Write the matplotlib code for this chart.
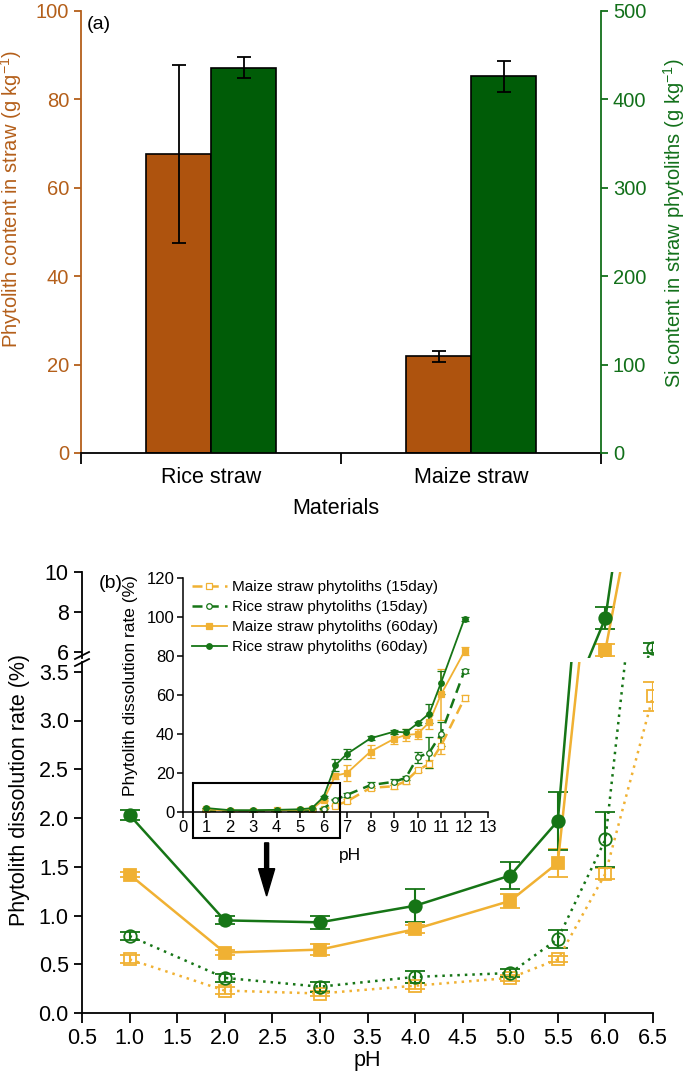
import numpy as np
import matplotlib
matplotlib.use('Agg')
import matplotlib.pyplot as plt
from matplotlib.patches import Rectangle

plt.rcParams['font.family'] = ['Liberation Sans', 'DejaVu Sans']
plt.rcParams['mathtext.default'] = 'regular'

# panel (a) data
materials = ['Rice straw', 'Maize straw']
phytolith_content = [67.6, 21.9]
phytolith_err = [20.2, 1.2]
si_content = [436, 426]
si_err = [12, 18]

# panel (b) data, pH series (main plot uses the first 8 points)
ph = [1, 2, 3, 4, 5, 5.5, 6, 6.5, 7, 8, 9, 9.5, 10, 10.5, 11, 12]
rice60 = [2.03, 0.95, 0.93, 1.10, 1.41, 1.97, 7.7, 24.0, 29.8, 37.8, 41.2, 40.8, 45.4, 50.5, 66.3, 99.2]
rice60_err = [0.05, 0.04, 0.07, 0.17, 0.14, 0.30, 0.55, 3.0, 2.5, 1.0, 1.0, 2.0, 1.0, 5.0, 6.0, 1.0]
maize60 = [1.42, 0.62, 0.65, 0.86, 1.15, 1.54, 6.1, 18.6, 20.0, 31.0, 37.5, 39.5, 40.0, 46.0, 60.3, 82.4]
maize60_err = [0.03, 0.03, 0.06, 0.04, 0.07, 0.14, 0.3, 1.5, 4.0, 3.5, 2.5, 3.0, 2.5, 3.5, 13.0, 2.0]
rice15 = [0.79, 0.36, 0.27, 0.37, 0.41, 0.76, 1.78, 6.2, 8.8, 13.8, 15.5, 17.5, 28.0, 30.5, 40.0, 72.5]
rice15_err = [0.04, 0.04, 0.05, 0.06, 0.04, 0.09, 0.28, 0.25, 1.0, 1.5, 1.5, 1.0, 3.0, 8.0, 6.0, 1.0]
maize15 = [0.55, 0.23, 0.20, 0.28, 0.36, 0.55, 1.43, 3.25, 5.5, 12.4, 13.2, 15.8, 21.4, 24.7, 34.0, 58.3]
maize15_err = [0.04, 0.04, 0.03, 0.03, 0.03, 0.03, 0.06, 0.15, 1.0, 1.0, 1.5, 1.5, 1.0, 2.0, 4.0, 1.5]
n_main = 8

BROWN_BAR = '#AE530E'
BROWN_TXT = '#B45F1A'
GREEN_BAR = '#005C07'
GREEN_TXT = '#12701A'
GOLD = '#F0B133'
GREEN = '#167516'

W, H = 685, 1077
fig = plt.figure(figsize=(W / 100, H / 100), dpi=100)


def px_axes(left, top, right, bottom):
    return fig.add_axes([left / W, 1 - bottom / H, (right - left) / W, (bottom - top) / H])


# ---------------- panel (a) ----------------
ax1 = px_axes(81, 11, 601, 453)
ax2 = ax1.twinx()
x = np.arange(len(materials)) + 0.5
bw = 0.25
ax1.bar(x - bw / 2, phytolith_content, bw, color=BROWN_BAR, edgecolor='black', lw=1.2, zorder=2)
ax1.errorbar(x - bw / 2, phytolith_content, yerr=phytolith_err, fmt='none', ecolor='black',
             elinewidth=1.3, capsize=5, capthick=1.3, zorder=3)
ax2.bar(x + bw / 2, si_content, bw, color=GREEN_BAR, edgecolor='black', lw=1.2, zorder=2)
ax2.errorbar(x + bw / 2, si_content, yerr=si_err, fmt='none', ecolor='black',
             elinewidth=1.3, capsize=5, capthick=1.3, zorder=3)

ax1.set_xlim(0, 2)
ax1.set_ylim(0, 100)
ax2.set_ylim(0, 500)
ax1.set_xticks([0, 1, 2])
ax1.set_xticklabels([])
ax1.set_xticks(x, minor=True)
ax1.set_xticklabels(materials, minor=True, fontsize=15.5)
ax1.tick_params(axis='x', which='major', direction='out', length=8, width=1.3)
ax1.tick_params(axis='x', which='minor', length=0, pad=10)
ax1.set_yticks([0, 20, 40, 60, 80, 100])
ax2.set_yticks([0, 100, 200, 300, 400, 500])
ax1.tick_params(axis='y', colors=BROWN_TXT, labelsize=14.5, length=5, width=1.3)
ax2.tick_params(axis='y', colors=GREEN_TXT, labelsize=14.5, length=5, width=1.3)
for a in (ax1, ax2):
    a.spines['top'].set_visible(False)
ax1.spines['left'].set_color(BROWN_TXT)
ax1.spines['right'].set_visible(False)
ax2.spines['left'].set_visible(False)
ax2.spines['right'].set_color(GREEN_TXT)
ax2.spines['bottom'].set_visible(False)
for s in ('left', 'bottom'):
    ax1.spines[s].set_linewidth(1.3)
ax2.spines['right'].set_linewidth(1.3)
ax1.set_ylabel('Phytolith content in straw (g kg$^{-1}$)', color=BROWN_TXT, fontsize=14.5)
ax1.yaxis.set_label_coords(-0.11, 0.575)
ax2.set_ylabel('Si content in straw phytoliths (g kg$^{-1}$)', color=GREEN_TXT, fontsize=14.5)
ax2.yaxis.set_label_coords(1.115, 0.52)
ax1.set_xlabel('Materials', fontsize=15.5)
ax1.xaxis.set_label_coords(0.49, -0.102)
ax1.text(0.012, 0.97, '(a)', transform=ax1.transAxes, fontsize=14, va='center', ha='left')

# ---------------- panel (b) ----------------
ax_lo = px_axes(82, 662, 653, 1013)
ax_hi = px_axes(82, 572, 653, 658)

main_series = [
    (maize15, maize15_err, GOLD, 's', 'none', (0, (1, 2)), 8),
    (rice15, rice15_err, GREEN, 'o', 'none', (0, (1, 2)), 9),
    (maize60, maize60_err, GOLD, 's', GOLD, '-', 8),
    (rice60, rice60_err, GREEN, 'o', GREEN, '-', 9),
]
for a in (ax_lo, ax_hi):
    for vals, errs, col, mk, mfc, ls, ms in main_series:
        a.errorbar(ph[:n_main], vals[:n_main], yerr=errs[:n_main], color=col, ecolor=col,
                   marker=mk, ms=ms, mfc=mfc, mec=col, mew=1.3,
                   ls=ls, lw=1.8, elinewidth=1.5, capsize=7, capthick=1.5)
    a.set_xlim(0.5, 6.5)
    a.spines['top'].set_visible(False)
    a.spines['right'].set_visible(False)
    a.spines['left'].set_linewidth(1.3)
    a.tick_params(axis='y', labelsize=15.5, length=6, width=1.3)

ax_lo.set_ylim(0, 3.6)
ax_lo.set_yticks(np.arange(0, 3.51, 0.5))
ax_lo.set_yticklabels([f'{v:.1f}' for v in np.arange(0, 3.51, 0.5)])
ax_lo.set_xticks(np.arange(0.5, 6.51, 0.5))
ax_lo.set_xticklabels([f'{v:.1f}' for v in np.arange(0.5, 6.51, 0.5)])
ax_lo.tick_params(axis='x', labelsize=15.5, length=7, width=1.3, pad=4)
ax_lo.spines['bottom'].set_linewidth(1.3)
ax_lo.set_xlabel('pH', fontsize=15.5)
ax_lo.xaxis.set_label_coords(0.5, -0.105)

ax_hi.set_ylim(5.7, 10)
ax_hi.set_yticks([6, 8, 10])
ax_hi.spines['bottom'].set_visible(False)
ax_hi.set_xticks([])

# break marks on the y axis
for a, y0, y1 in ((ax_hi, -0.012, 0.07), (ax_lo, 0.9886, 1.0085)):
    a.plot([-0.0123, 0.0123], [y0, y1], transform=a.transAxes, color='black', lw=1.3, clip_on=False)

fig.text(20 / W, 1 - 790 / H, 'Phytolith dissolution rate (%)', rotation=90, fontsize=15.5,
         ha='center', va='center')
ax_hi.text(0.03, 0.87, '(b)', transform=ax_hi.transAxes, fontsize=14, va='center', ha='left')

# arrow from the inset box down to the main plot
ax_lo.arrow(2.44, 1.745, 0, -0.545, width=0.042, head_width=0.17, head_length=0.28,
            length_includes_head=True, color='black', zorder=5)

# ---------------- inset ----------------
ax_in = px_axes(182.6, 578, 488, 812)
inset_series = [
    (maize15, maize15_err, GOLD, 's', 'white', (0, (4, 2.5)), 1.8, 'Maize straw phytoliths (15day)'),
    (rice15, rice15_err, GREEN, 'o', 'white', (0, (4, 2.5)), 1.8, 'Rice straw phytoliths (15day)'),
    (maize60, maize60_err, GOLD, 's', GOLD, '-', 1.3, 'Maize straw phytoliths (60day)'),
    (rice60, rice60_err, GREEN, 'o', GREEN, '-', 1.3, 'Rice straw phytoliths (60day)'),
]
for vals, errs, col, mk, mfc, ls, lw, lab in inset_series:
    ax_in.errorbar(ph, vals, yerr=errs, color=col, ecolor=col, marker=mk, ms=4, mfc=mfc,
                   mec=col, mew=0.9, ls=ls, lw=lw, elinewidth=1.1, capsize=3, capthick=1.1,
                   label=lab)
ax_in.set_xlim(0, 13)
ax_in.set_ylim(0, 120)
ax_in.set_xticks(range(0, 14))
ax_in.set_yticks(range(0, 121, 20))
ax_in.tick_params(labelsize=12, length=4, width=1.1, pad=2)
ax_in.spines['top'].set_visible(False)
ax_in.spines['right'].set_visible(False)
for s in ('left', 'bottom'):
    ax_in.spines[s].set_linewidth(1.1)
ax_in.set_ylabel('Phytolith dissolution rate (%)', fontsize=12.5)
ax_in.yaxis.set_label_coords(-0.145, 0.54)
ax_in.set_xlabel('pH', fontsize=12.5)
ax_in.xaxis.set_label_coords(0.548, -0.155)
handles, labels = ax_in.get_legend_handles_labels()
handles = [h[0] for h in handles]
ax_in.legend(handles, labels, loc='upper left', bbox_to_anchor=(0.0, 1.03), frameon=False,
             fontsize=11, handlelength=2.3, handletextpad=0.35, labelspacing=0.4,
             borderaxespad=0.2)
ax_in.add_patch(Rectangle((0.44, -13.3), 6.26, 28.2, fill=False, ec='black', lw=1.5,
                          clip_on=False, zorder=6))
ax_in.patch.set_alpha(0)

fig.savefig('out.png', dpi=100)
